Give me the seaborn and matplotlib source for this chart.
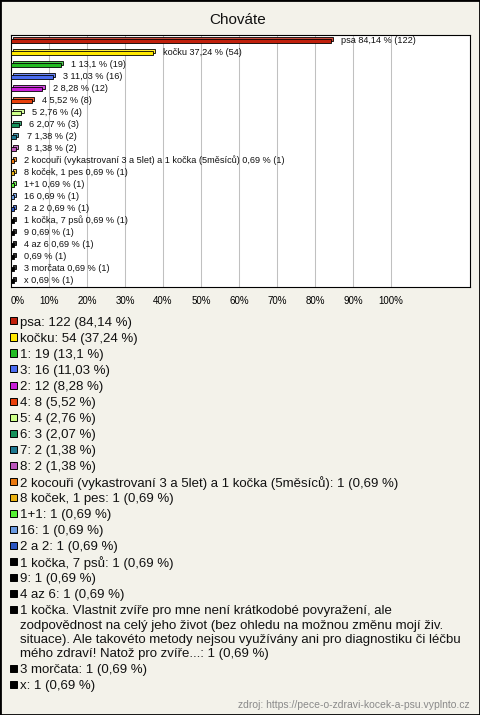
import matplotlib
matplotlib.use("Agg")
import matplotlib.pyplot as plt
from matplotlib.patches import Rectangle
from matplotlib.colors import to_rgb
import seaborn as sns
import pandas as pd

# ---------------- data ----------------
title = "Chováte"
source = "zdroj: https://pece-o-zdravi-kocek-a-psu.vyplnto.cz"

names = [
    "psa", "kočku", "1", "3", "2", "4", "5", "6", "7", "8",
    "2 kocouři (vykastrovaní 3 a 5let) a 1 kočka (5měsíců)",
    "8 koček, 1 pes", "1+1", "16", "2 a 2", "1 kočka, 7 psů", "9", "4 az 6",
    "1 kočka. Vlastnit zvíře pro mne není krátkodobé povyražení, ale\n"
    "zodpovědnost na celý jeho život (bez ohledu na možnou změnu mojí živ.\n"
    "situace). Ale takovéto metody nejsou využívány ani pro diagnostiku či léčbu\n"
    "mého zdraví! Natož pro zvíře...",
    "3 morčata", "x",
]
bar_names = [
    "psa", "kočku", "1", "3", "2", "4", "5", "6", "7", "8",
    "2 kocouři (vykastrovaní 3 a 5let) a 1 kočka (5měsíců)",
    "8 koček, 1 pes", "1+1", "16", "2 a 2", "1 kočka, 7 psů", "9", "4 az 6",
    "", "3 morčata", "x",
]
counts = [122, 54, 19, 16, 12, 8, 4, 3, 2, 2, 1, 1, 1, 1, 1, 1, 1, 1, 1, 1, 1]
percents = [84.14, 37.24, 13.1, 11.03, 8.28, 5.52, 2.76, 2.07, 1.38, 1.38,
            0.69, 0.69, 0.69, 0.69, 0.69, 0.69, 0.69, 0.69, 0.69, 0.69, 0.69]
colors = ["#C0200C", "#FFE800", "#22BB22", "#4A6CF0", "#C81ED8", "#E8400C",
          "#CCFF88", "#14905A", "#1E7890", "#BB55BB", "#E87810", "#E8B010",
          "#55EE33", "#6A9AE0", "#2A55C0", "#000000", "#000000", "#000000",
          "#000000", "#000000", "#000000"]
tick_values = [0, 10, 20, 30, 40, 50, 60, 70, 80, 90, 100]
tick_labels = [f"{v}%" for v in tick_values]

# ---------------- style ----------------
sns.set_theme(style="white")
plt.rcParams["font.family"] = ["Liberation Sans", "DejaVu Sans"]

BG = "#F3F2EA"
W, H = 480, 715


def fx(x):
    return x / W


def fy(y):
    return 1 - y / H


def fmt(p):
    return f"{p:g}".replace(".", ",")


fig = plt.figure(figsize=(W / 100, H / 100), dpi=100, facecolor=BG)
ax = fig.add_axes([fx(11), fy(287), 459 / W, 252 / H])
ax.set_facecolor("white")

keys = [f"{i:02d} {n}" for i, n in enumerate(names)]
df = pd.DataFrame({"key": keys, "pct": percents})
palette = dict(zip(keys, colors))

BAR_H = 0.38
DX = 0.55   # 3D depth in x (percent units)
DY = 0.16   # 3D depth in y (row units)


def lighten(c, f=0.2):
    r, g, b = to_rgb(c)
    return (r + (1 - r) * f, g + (1 - g) * f, b + (1 - b) * f)


# back faces (3D effect)
ax.barh([i - DY for i in range(len(percents))], percents, left=DX, height=BAR_H,
        color=[lighten(c) for c in colors], edgecolor="black", linewidth=0.6,
        zorder=2)

# front faces
sns.barplot(data=df, x="pct", y="key", hue="key", palette=palette,
            order=keys, hue_order=keys, orient="h", width=BAR_H,
            saturation=1, edgecolor="black", linewidth=0.6, legend=False,
            ax=ax, zorder=3)

ax.set_xlim(0, 459 / 3.8)
ax.set_ylim(len(percents) - 0.5, -0.5)
ax.set_xlabel("")
ax.set_ylabel("")
ax.set_yticks([])
ax.set_xticks(tick_values)
ax.set_xticklabels(tick_labels, fontsize=7)
ax.tick_params(axis="x", length=0, pad=6.5, colors="black")
ax.xaxis.grid(True, color="#C0C0C0", linewidth=0.75, zorder=0)
ax.set_axisbelow(True)
for s in ax.spines.values():
    s.set_color("black")
    s.set_linewidth(0.8)
    s.set_visible(True)
lbls = ax.get_xticklabels()
lbls[0].set_horizontalalignment("left")

# bar labels
for i, (bn, p, n) in enumerate(zip(bar_names, percents, counts)):
    txt = f"{bn} {fmt(p)} % ({n})" if bn else f"{fmt(p)} % ({n})"
    ax.text(p + 2.7, i - 0.06, txt, fontsize=6.6, va="center", ha="left",
            color="#111111", zorder=4)

# title
fig.text(fx(237.5), fy(20), title, ha="center", va="center", fontsize=11,
         color="#111111")

# legend (manual, below plot)
y = 322
for name, n, p, c in zip(names, counts, percents, colors):
    lines = f"{name}: {n} ({fmt(p)} %)".split("\n")
    fig.add_artist(Rectangle((fx(9.5), fy(y + 2.5)), 7 / W, 7 / H,
                             transform=fig.transFigure, facecolor=c,
                             edgecolor="black", linewidth=0.7))
    for k, line in enumerate(lines):
        fig.text(fx(19.5), fy(y + 1 + k * 14.5), line, ha="left", va="center",
                 fontsize=9.5, color="#111111")
    y += 16 + (len(lines) - 1) * 14.5

# footer
fig.text(fx(470), fy(705), source, ha="right", va="center", fontsize=7.5,
         color="#8A8A8A")

# figure border
fig.add_artist(Rectangle((0, 0), 1, 1, transform=fig.transFigure, fill=False,
                         edgecolor="black", linewidth=2))

fig.savefig("out.png", dpi=100, facecolor=fig.get_facecolor())
